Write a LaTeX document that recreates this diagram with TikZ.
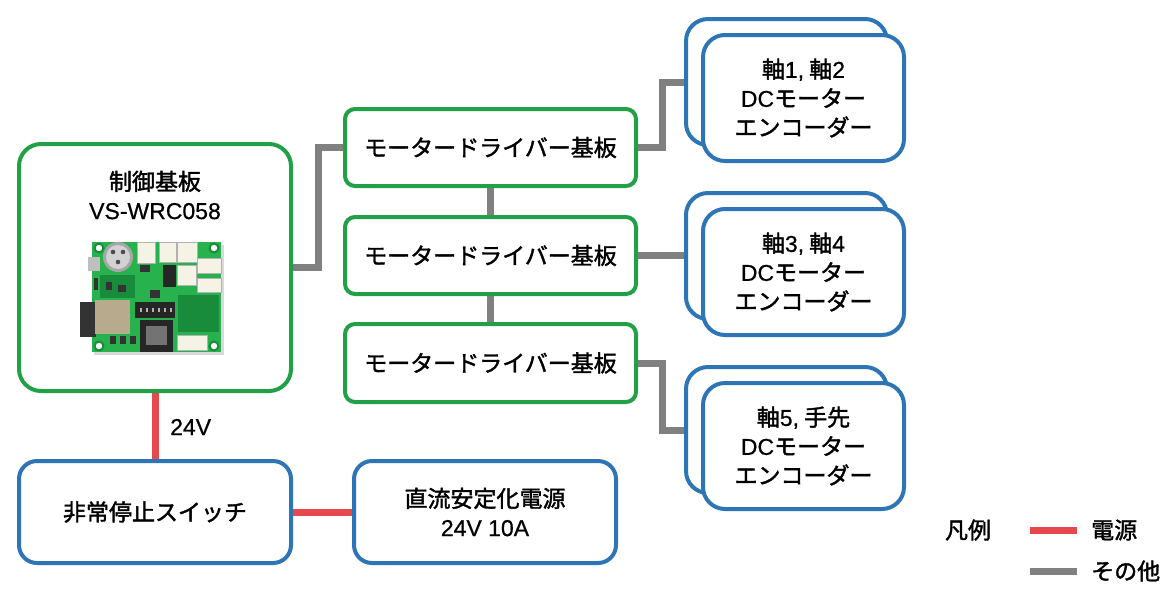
\documentclass[tikz,border=0pt]{standalone}
\usepackage{fontspec}
\usetikzlibrary{backgrounds}
\setmainfont{Noto Sans CJK JP}[FakeBold=1.6]
\newfontfamily\lat{Liberation Sans}[FakeBold=0.6]
\definecolor{grn}{RGB}{34,160,72}
\definecolor{blu}{RGB}{46,117,182}
\definecolor{gry}{RGB}{128,128,128}
\definecolor{rd}{RGB}{229,72,77}
\definecolor{pcb}{RGB}{40,178,78}
\definecolor{pcbd}{RGB}{25,140,60}
\definecolor{conw}{RGB}{245,242,230}
\definecolor{modc}{RGB}{184,170,140}
\tikzset{
  txt/.style={font=\fontsize{23}{29}\selectfont, text=black, inner sep=0pt},
  gbox/.style={draw=grn, line width=4pt, fill=white, inner sep=0pt, txt},
  bbox/.style={draw=blu, line width=4pt, fill=white, inner sep=0pt, txt},
  gline/.style={draw=gry, line width=7pt},
  rline/.style={draw=rd, line width=7pt},
  conn/.style={fill=conw, draw=gray!60, line width=0.5pt},
}
\begin{document}
\begin{tikzpicture}[x=1pt,y=-1pt]
\useasboundingbox (0,0) rectangle (1172,603);

\node[gbox, rounded corners=22, minimum width=272, minimum height=247] (ctrl) at (155,267.5) {};
\node[gbox, rounded corners=10, minimum width=291, minimum height=77] (md1) at (490.5,147.5) {モータードライバー基板};
\node[gbox, rounded corners=10, minimum width=291, minimum height=77] (md2) at (490.5,255.5) {モータードライバー基板};
\node[gbox, rounded corners=10, minimum width=291, minimum height=78] (md3) at (490.5,363) {モータードライバー基板};

\node[bbox, rounded corners=22, minimum width=201, minimum height=126] (b1) at (786.5,82) {};
\node[bbox, rounded corners=22, minimum width=201, minimum height=126] (b2) at (786.5,256) {};
\node[bbox, rounded corners=22, minimum width=201, minimum height=126] (b3) at (786.5,430) {};
\node[bbox, rounded corners=22, minimum width=201, minimum height=126, align=center] (f1) at (803.5,98) {軸{\lat 1,} 軸{\lat 2}\\{\lat DC}モーター\\エンコーダー};
\node[bbox, rounded corners=22, minimum width=201, minimum height=126, align=center] (f2) at (803.5,272) {軸{\lat 3,} 軸{\lat 4}\\{\lat DC}モーター\\エンコーダー};
\node[bbox, rounded corners=22, minimum width=201, minimum height=126, align=center] (f3) at (803.5,446) {軸{\lat 5,} 手先\\{\lat DC}モーター\\エンコーダー};

\node[bbox, rounded corners=18, minimum width=272, minimum height=102] (stop) at (155,512) {非常停止スイッチ};
\node[bbox, rounded corners=18, minimum width=262, minimum height=102, align=center] (psu) at (485,512) {直流安定化電源\\{\lat 24V 10A}};

\begin{scope}[on background layer]
\fill[white] (0,0) rectangle (1172,603);
\draw[gline] (ctrl.east) -- ++(25,0) |- (md1.west);
\draw[gline] (md1.south) -- (md2.north);
\draw[gline] (md2.south) -- (md3.north);
\draw[gline] (md1.east) -- ++(24,0) |- (b1.west);
\draw[gline] (md2.east) -- (md2.east -| b2.west);
\draw[gline] (md3.east) -- ++(24,0) |- (b3.west);
\draw[rline] (ctrl.south) -- (stop.north);
\draw[rline] (stop.east) -- (psu.west);
\end{scope}

\node[txt, align=center] (ctitle) at (155,195) {制御基板\\{\lat VS-WRC058}};
\node[txt, anchor=west] (v24) at (170,427) {\lat 24V};

% board picture
\begin{scope}
\fill[black!15] (94,245) rectangle (224,355);
\fill[pcb] (92,242) rectangle (221,352);
\foreach \p/\q in {99/248,214/248,99/346,214/346}{
  \fill[pcbd] (\p,\q) circle (5.5);
  \fill[white] (\p,\q) circle (3.2);
}
\fill[pcbd] (100,275) rectangle (135,298);
\fill[pcbd] (178,295) rectangle (219,332);
\fill[gray!50] (88,257) rectangle (100,271);
\fill[gray!70] (118,257) circle (15);
\fill[gray!35] (118,257) circle (12);
\fill[black!70] (113,252) circle (2.3);
\fill[black!70] (123,252) circle (2.3);
\fill[black!70] (118,262) circle (2.3);
\filldraw[conn] (137,242) rectangle (155,263);
\filldraw[conn] (159,242) rectangle (176,262);
\filldraw[conn] (177,242) rectangle (197,262);
\filldraw[conn] (197,258) rectangle (221,273);
\filldraw[conn] (197,278) rectangle (221,292);
\filldraw[conn] (177,265) rectangle (196,285);
\filldraw[conn] (177,335) rectangle (207,350);
\fill[black!85] (163,265) rectangle (176,287);
\fill[black!80] (80,302) rectangle (96,337);
\fill[modc] (95,300) rectangle (130,334);
\fill[black!85] (135,302) rectangle (175,318);
\foreach \p in {140,146,...,170}{\fill[gray!60] (\p,308) rectangle (\p+2,312);}
\fill[black!85] (140,320) rectangle (173,352);
\fill[black!55] (146,326) rectangle (167,345);
\fill[black!80] (94,278) rectangle (98,290);
\fill[black!80] (140,265) rectangle (150,272);
\fill[black!80] (106,282) rectangle (112,290);
\fill[black!80] (118,285) rectangle (126,292);
\fill[black!80] (120,336) rectangle (126,344);
\fill[black!80] (110,336) rectangle (116,344);
\fill[black!80] (130,336) rectangle (136,344);
\fill[black!80] (150,290) rectangle (160,298);
\fill[pcbd] (200,298) rectangle (216,306);
\fill[pcbd] (200,316) rectangle (216,324);
\end{scope}

% legend
\node[txt] (lgt) at (968,530) {凡例};
\coordinate (lr1) at (1030,530);
\coordinate (lr2) at (1077,530);
\coordinate (lg1) at (1030,571);
\coordinate (lg2) at (1077,571);
\draw[rline] (lr1) -- (lr2);
\draw[gline] (lg1) -- (lg2);
\node[txt, anchor=west] (lgr) at (1091,530) {電源};
\node[txt, anchor=west] (lgg) at (1091,571) {その他};
\end{tikzpicture}
\end{document}
